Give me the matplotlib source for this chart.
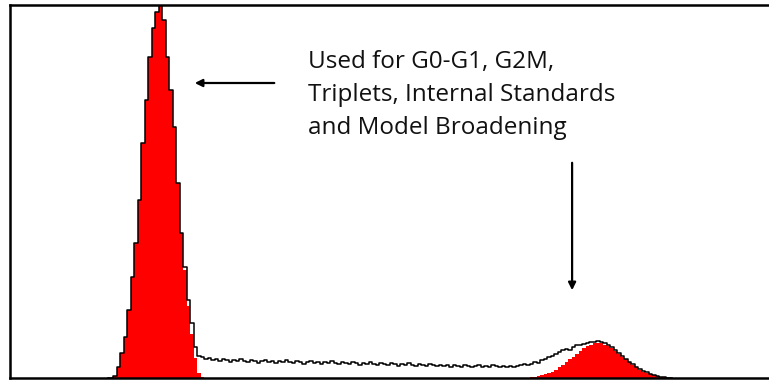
"""DNA content histogram with modelled G0-G1 and G2M peaks."""

import numpy as np
import matplotlib.pyplot as plt

# measured histogram, one count per channel starting at channel 28
hist_start = 28
hist_counts = [
    0, 0, 2, 11, 25, 41, 68, 101, 135, 178, 235, 278, 321, 350, 366, 380,
    358, 321, 288, 251, 195, 145, 111, 78, 55, 31, 22,
    # S phase plateau
    21, 19, 20, 18, 19, 17, 19, 18, 16, 18, 17, 19, 17, 16, 18, 17, 15, 17,
    18, 16, 17, 15, 17, 16, 18, 16, 15, 17, 16, 14, 16, 17, 15, 16, 14, 16,
    15, 17, 15, 14, 16, 15, 14, 16, 15, 13, 15, 14, 16, 14, 13, 15, 14, 13,
    15, 14, 12, 14, 13, 15, 13, 12, 14, 13, 12, 14, 13, 12, 13, 12, 13, 11,
    13, 12, 11, 13, 12, 11, 12, 13, 11, 12, 11, 13, 12, 11, 12, 11, 12, 11,
    12, 13, 14,
    # rise into G2M
    13, 14, 16, 15, 18, 19, 21, 22, 24, 26, 28, 29, 28, 31, 33, 33, 34, 35,
    36, 36, 37, 36, 35, 33, 31, 28, 25, 22, 19, 16, 14, 11, 9, 7, 6, 4, 3,
    2, 1, 1, 0, 0,
]

# modelled G0-G1 peak
g1_start = 29
g1_model = [
    0, 2, 11, 25, 41, 68, 101, 135, 178, 235, 278, 321, 350, 366, 372, 358,
    321, 288, 251, 195, 145, 108, 72, 44, 20, 5, 1, 0,
]

# modelled G2M peak
g2_start = 148
g2_model = [
    0, 0.8, 1.3, 2.0, 2.8, 3.8, 5.0, 6.5, 8.4, 10.6, 13.0, 15.7, 18.6, 21.5,
    24.4, 27.2, 29.7, 31.8, 33.5, 34.6, 35.0, 34.6, 33.5, 31.8, 29.7, 27.2,
    24.4, 21.5, 18.6, 15.7, 13.0, 10.6, 8.4, 6.5, 5.0, 3.8, 2.8, 2.0, 1.3,
    0.8, 0,
]

note_lines = [
    "Used for G0-G1, G2M,",
    "Triplets, Internal Standards",
    "and Model Broadening",
]

hist_x = hist_start + np.arange(len(hist_counts))
g1_x = g1_start + np.arange(len(g1_model))
g2_x = g2_start + np.arange(len(g2_model))

fig = plt.figure(figsize=(7.69, 3.81), dpi=100)
ax = fig.add_axes([10 / 769, 3 / 381, 762 / 769, 373 / 381])

ax.fill_between(g1_x, g1_model, step="mid", color="#ff0000", lw=0)
ax.fill_between(g2_x, g2_model, step="mid", color="#ff0000", lw=0)
ax.step(hist_x, hist_counts, where="mid", color="black", lw=1.1)

ax.set_xlim(0, 762 / 3.5)
ax.set_ylim(0, 373)
ax.set_xticks([])
ax.set_yticks([])
for side in ["left", "top", "bottom"]:
    ax.spines[side].set_linewidth(1.8)
ax.spines["right"].set_visible(False)

# labels and pointers
for line, base in zip(note_lines, [310, 277, 244]):
    ax.text(85, base, line, fontsize=17.5, family="Open Sans", va="baseline",
            ha="left", color="#111111")

arrow = dict(arrowstyle="-|>", mutation_scale=11, lw=1.6, color="black")
ax.annotate("", xy=(52, 295), xytext=(76.3, 295), arrowprops=arrow)
ax.annotate("", xy=(160.6, 85), xytext=(160.6, 218), arrowprops=arrow)

fig.savefig("out.png", dpi=100)
